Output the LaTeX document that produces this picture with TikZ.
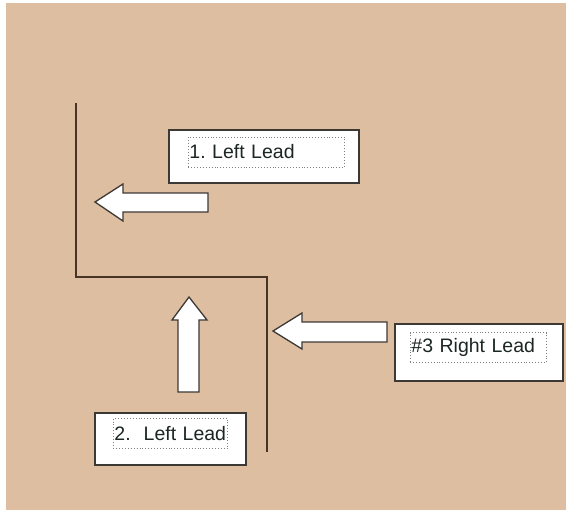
\documentclass[tikz,border=0pt]{standalone}
\usepackage{fontspec}
\setmainfont{Liberation Sans}
\frenchspacing
\definecolor{leather}{RGB}{221,190,161}
\definecolor{leadline}{RGB}{72,52,38}
\definecolor{boxline}{RGB}{60,56,52}
\definecolor{labeltext}{RGB}{28,38,34}
\tikzset{
  leadbox/.style={draw=boxline, line width=1.8pt, fill=white, minimum width=190pt, minimum height=53pt, inner sep=0pt},
  focus/.style={draw=gray, dotted, line width=0.9pt, anchor=west, inner sep=1pt, align=left,
    text=labeltext, font=\fontsize{19.5}{22}\selectfont, minimum height=30pt},
  blockarrow/.style={draw=boxline, line width=1.3pt, fill=white, line join=miter}
}
\begin{document}
\begin{tikzpicture}[x=1pt,y=-1pt]
\useasboundingbox (0,0) rectangle (566,512);
\fill[leather] (6,3) rectangle (566,510);

% the lead line
\draw[leadline, line width=2pt] (76,103) -- (76,277) -- (267,277) -- (267,452);

% arrows
\draw[blockarrow] (95,202) -- (123,184) -- (123,193) -- (208,193) -- (208,212)
  -- (123,212) -- (123,221) -- cycle;
\draw[blockarrow] (189,297) -- (207,320) -- (199,320) -- (199,392) -- (178,392)
  -- (178,320) -- (172,320) -- cycle;
\draw[blockarrow] (273,331) -- (302,313) -- (302,322) -- (387,322) -- (387,342)
  -- (302,342) -- (302,349) -- cycle;

% labels
\node[leadbox, minimum width=190pt] (box1) at (264,156.5) {};
\node[focus, text width=154pt] (lead1) at (188,152) {1. Left Lead};

\node[leadbox, minimum width=151pt, minimum height=52pt] (box2) at (170.5,439) {};
\node[focus, text width=112pt] (lead2) at (113,433.5) {2.\ \ Left Lead};

\node[leadbox, minimum width=168pt, minimum height=57pt] (box3) at (479,352.5) {};
\node[focus, text width=134pt] (lead3) at (410,347.5) {\#3 Right Lead};
\end{tikzpicture}
\end{document}
